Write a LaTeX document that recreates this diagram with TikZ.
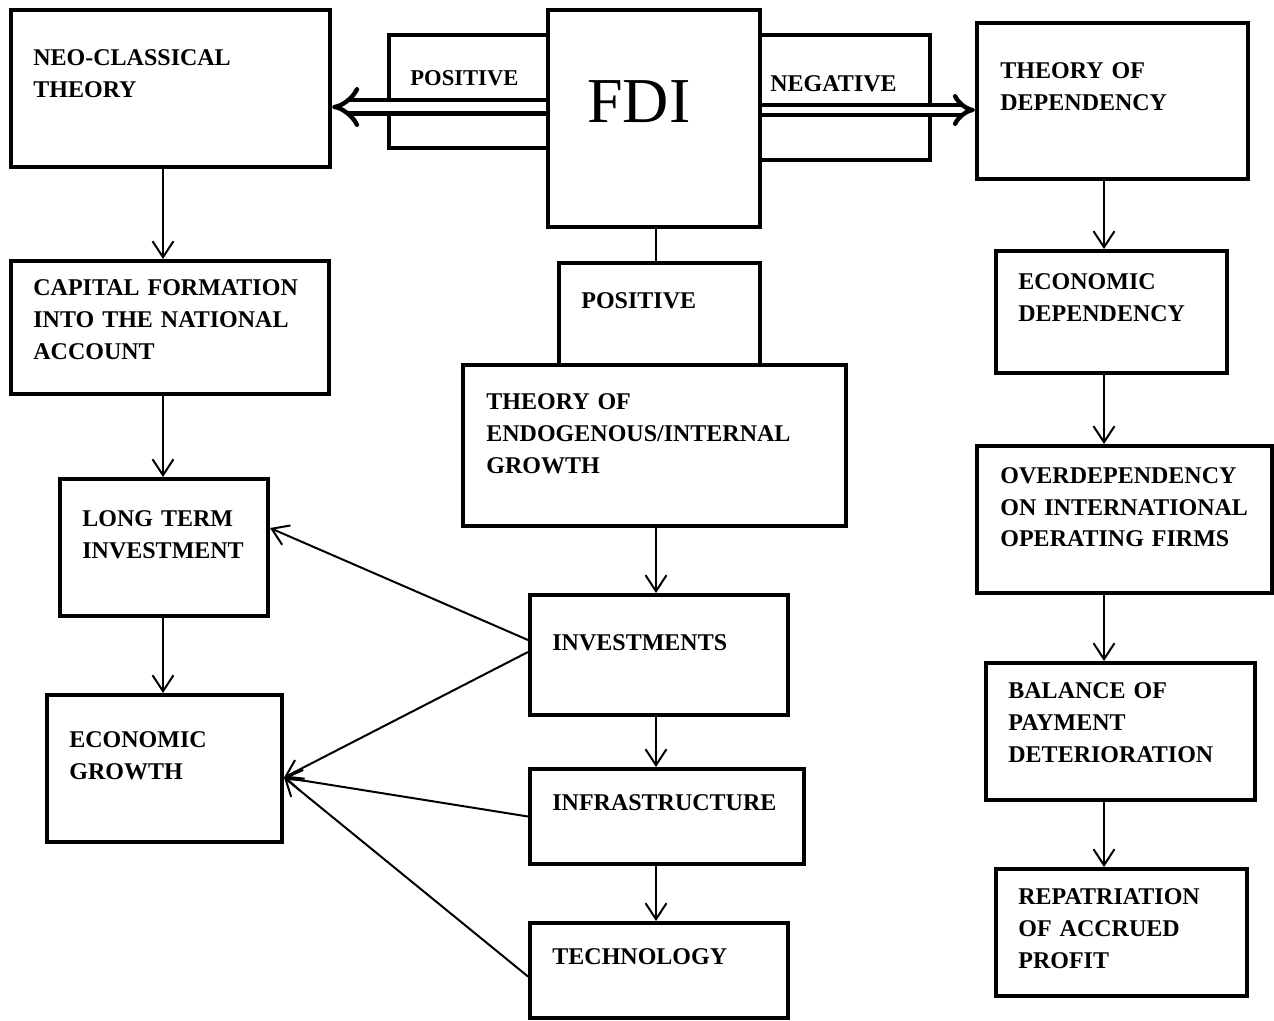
\documentclass[tikz,border=0pt]{standalone}
\usepackage{fontspec}
\setmainfont{Liberation Serif}
\usetikzlibrary{positioning,fit,arrows.meta}

\tikzset{
  panel/.style={draw, line width=2pt, inner sep=0pt},
  lbl/.style={anchor=base west, inner sep=0pt, text width=170pt, align=left,
    font=\bfseries\fontsize{12}{16}\selectfont},
  flow/.style={line width=1pt, -{Straight Barb[length=8pt,width=10.5pt,line width=1pt]}},
  bigflow/.style={double, line width=2.2pt, double distance=4.5pt, -{Implies}}
}

\begin{document}
\begin{tikzpicture}[x=0.5pt,y=-0.5pt]
\useasboundingbox (0,0) rectangle (1274,1021);
\coordinate (lcol) at (163,0);
\coordinate (mcol) at (656,0);
\coordinate (rcol) at (1104,0);
\coordinate (lrow) at (0,107);
\coordinate (rrow) at (0,110);

% boxes behind the double arrows
\node[panel, fit={(389,35) (548,148)}] (posbox) {};
\node[panel, fit={(760,35) (930,160)}] (negbox) {};

% top row
\node[panel, fit={(11,10) (330,167)}] (neo) {};
\node[panel, fit={(548,10) (760,227)}] (fdi) {};
\node[panel, fit={(977,23) (1248,179)}] (dep) {};

% left column
\node[panel, fit={(11,261) (329,394)}] (cap) {};
\node[panel, fit={(60,479) (268,616)}] (lti) {};
\node[panel, fit={(47,695) (282,842)}] (eg) {};

% middle column
\node[panel, fit={(559,263) (760,365)}] (pos) {};
\node[panel, fit={(463,365) (846,526)}] (endo) {};
\node[panel, fit={(530,595) (788,715)}] (inv) {};
\node[panel, fit={(530,769) (804,864)}] (infra) {};
\node[panel, fit={(530,923) (788,1018)}] (tech) {};

% right column
\node[panel, fit={(996,251) (1227,373)}] (edep) {};
\node[panel, fit={(977,446) (1272,593)}] (over) {};
\node[panel, fit={(986,663) (1255,800)}] (bop) {};
\node[panel, fit={(996,869) (1247,996)}] (repat) {};

% texts
\node[anchor=base west, inner sep=0pt, font=\fontsize{32}{32}\selectfont] (fditxt) at (587,123) {FDI};
\node[lbl, font=\bfseries\fontsize{11.3}{16}\selectfont] (postxt) at (410,86) {POSITIVE};
\node[lbl] (negtxt) at (770,92) {NEGATIVE};
\node[lbl] (neotxt) at (33,66) {NEO-CLASSICAL\\THEORY};
\node[lbl] (deptxt) at (1000,79) {THEORY OF\\DEPENDENCY};
\node[lbl] (captxt) at (33,296) {CAPITAL FORMATION\\INTO THE NATIONAL\\ACCOUNT};
\node[lbl] (ltitxt) at (82,526) {LONG TERM\\INVESTMENT};
\node[lbl] (egtxt) at (69,747) {ECONOMIC\\GROWTH};
\node[lbl] (pos2txt) at (581,309) {POSITIVE};
\node[lbl, text width=200pt] (endotxt) at (486,410) {THEORY OF\\ENDOGENOUS/INTERNAL\\GROWTH};
\node[lbl] (invtxt) at (552,650) {INVESTMENTS};
\node[lbl] (infratxt) at (552,810) {INFRASTRUCTURE};
\node[lbl] (techtxt) at (552,964) {TECHNOLOGY};
\node[lbl] (edeptxt) at (1018,290) {ECONOMIC\\DEPENDENCY};
\node[lbl] (overtxt) at (1000,483) {OVERDEPENDENCY\\ON INTERNATIONAL\\OPERATING FIRMS};
\node[lbl] (boptxt) at (1008,698) {BALANCE OF\\PAYMENT\\DETERIORATION};
\node[lbl] (repattxt) at (1018,904) {REPATRIATION\\OF ACCRUED\\PROFIT};

% double arrows out of FDI
\draw[bigflow] (fdi.west |- lrow) -- (neo.east |- lrow);
\draw[bigflow, double distance=3pt] (fdi.east |- rrow) -- (dep.west |- rrow);

% FDI to the lower POSITIVE box
\draw[line width=1pt] (fdi.south -| mcol) -- (pos.north -| mcol);

% left chain
\draw[flow] (neo.south -| lcol) -- (cap.north -| lcol);
\draw[flow] (cap.south -| lcol) -- (lti.north -| lcol);
\draw[flow] (lti.south -| lcol) -- (eg.north -| lcol);

% middle chain
\draw[flow] (endo.south -| mcol) -- (inv.north -| mcol);
\draw[flow] (inv.south -| mcol) -- (infra.north -| mcol);
\draw[flow] (infra.south -| mcol) -- (tech.north -| mcol);

% right chain
\draw[flow] (dep.south -| rcol) -- (edep.north -| rcol);
\draw[flow] (edep.south -| rcol) -- (over.north -| rcol);
\draw[flow] (over.south -| rcol) -- (bop.north -| rcol);
\draw[flow] (bop.south -| rcol) -- (repat.north -| rcol);

% into the left column
\draw[flow] ([yshift=7.5pt]inv.west) -- ([yshift=9.75pt]lti.east);
\draw[flow] ([yshift=1.5pt]inv.west) -- ([yshift=-4.5pt]eg.east);
\draw[flow] (infra.west) -- ([yshift=-4.5pt]eg.east);
\draw[flow] ([yshift=-3pt]tech.west) -- ([yshift=-4.5pt]eg.east);
\end{tikzpicture}
\end{document}
